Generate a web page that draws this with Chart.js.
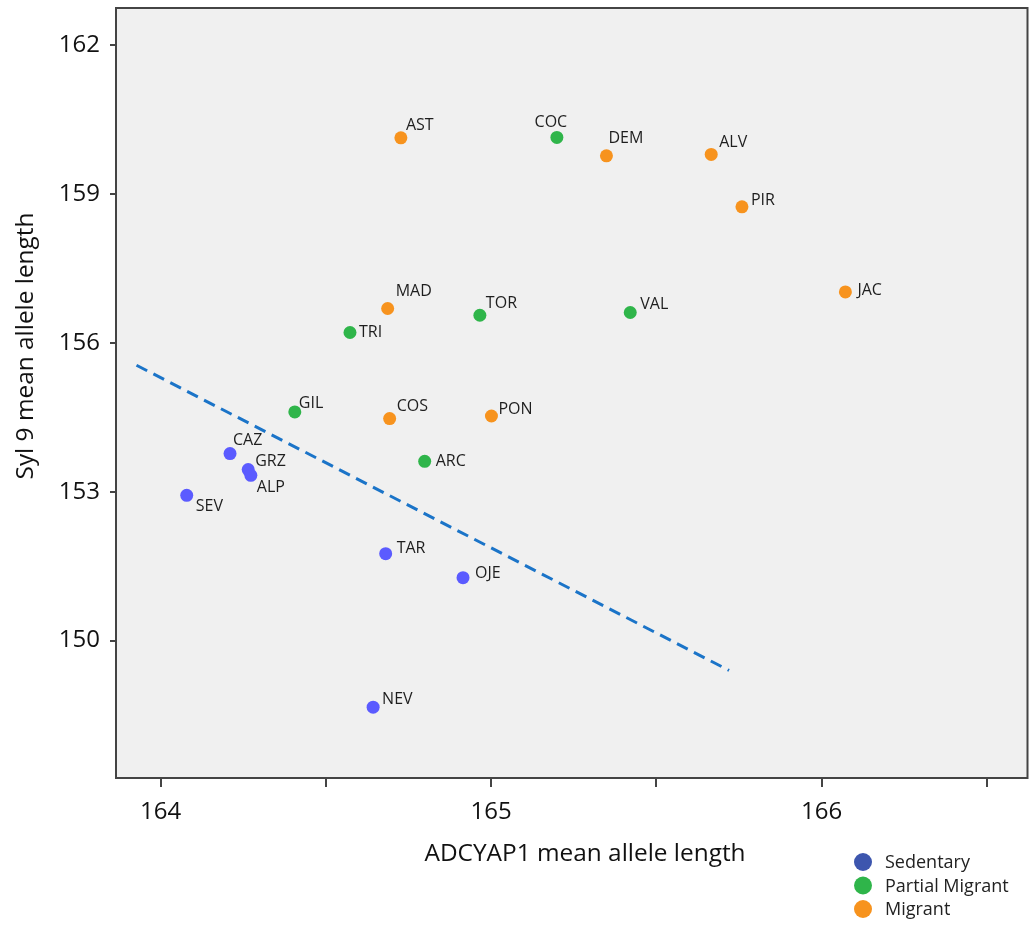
<!DOCTYPE html>
<html>
<head>
<meta charset="utf-8">
<script src="https://cdn.jsdelivr.net/npm/chart.js@4"></script>
<style>
  html, body { margin:0; padding:0; background:#fff; }
  #wrap { width:1034px; height:927px; position:relative; }
</style>
</head>
<body>
<div id="wrap"><canvas id="c"></canvas></div>
<script>
// ===== Data =====
const sedentaryNames = ["CAZ","GRZ","ALP","SEV","TAR","OJE","NEV"];
const sedentaryX = [164.210, 164.265, 164.273, 164.079, 164.681, 164.915, 164.643];
const sedentaryY = [153.768, 153.446, 153.331, 152.927, 151.752, 151.268, 148.659];

const partialNames = ["COC","TOR","VAL","TRI","GIL","ARC"];
const partialX = [165.199, 164.966, 165.421, 164.573, 164.406, 164.799];
const partialY = [160.139, 156.556, 156.611, 156.208, 154.607, 153.613];

const migrantNames = ["AST","DEM","ALV","PIR","JAC","MAD","COS","PON"];
const migrantX = [164.727, 165.349, 165.666, 165.759, 166.072, 164.687, 164.693, 165.001];
const migrantY = [160.131, 159.768, 159.796, 158.740, 157.026, 156.692, 154.474, 154.526];

// dashed separating line, two end points
const lineX = [163.927, 165.720];
const lineY = [155.548, 149.399];

const xTicks = [164, 164.5, 165, 165.5, 166, 166.5];
const yTicks = [150, 153, 156, 159, 162];

const seriesLabels = ["Sedentary", "Partial Migrant", "Migrant"];

// ===== Styles =====
const pointColors = ["#5b5bff", "#2fb54a", "#f7931e"];
const legendColors = ["#3d56ae", "#2fb54a", "#f7931e"];
const FONT = "'Open Sans', 'Noto Sans', sans-serif";

// label offset from point: [dx, dy, align]
const labelOffsets = {
  CAZ:[3,-13], GRZ:[7,-8], ALP:[6,12], SEV:[9,11], TAR:[11,-5], OJE:[12,-4], NEV:[9,-8],
  COC:[-6,-15,"center"], TOR:[6,-12], VAL:[10,-8], TRI:[9,0], GIL:[4,-9], ARC:[11,0],
  AST:[5,-12], DEM:[2,-17], ALV:[8,-12], PIR:[9,-6], JAC:[12,-1], MAD:[8,-17], COS:[7,-12], PON:[7,-7]
};

function toPoints(xs, ys, names){
  return xs.map((x, i) => ({ x: x, y: ys[i], name: names ? names[i] : null }));
}

// ===== Plugins =====
const plotBox = {
  id: "plotBox",
  beforeDraw(chart){
    const a = chart.chartArea, ctx = chart.ctx;
    ctx.save();
    ctx.fillStyle = "#f0f0f0";
    ctx.fillRect(a.left, a.top, a.right - a.left, a.bottom - a.top);
    ctx.restore();
  },
  afterDatasetsDraw(chart){
    const ctx = chart.ctx, a = chart.chartArea;
    // point labels
    ctx.save();
    ctx.font = "16px " + FONT;
    ctx.fillStyle = "#1e1e1e";
    ctx.textBaseline = "middle";
    chart.data.datasets.forEach((ds, di) => {
      if (ds.type === "line") return;
      const meta = chart.getDatasetMeta(di);
      meta.data.forEach((el, i) => {
        const p = ds.data[i];
        const off = labelOffsets[p.name] || [8, -8];
        ctx.textAlign = off[2] || "left";
        ctx.fillText(p.name, el.x + off[0], el.y + off[1]);
      });
    });
    ctx.restore();

    // frame
    ctx.save();
    ctx.strokeStyle = "#444";
    ctx.lineWidth = 2;
    ctx.strokeRect(a.left, a.top, a.right - a.left, a.bottom - a.top);
    ctx.restore();
  },
  afterDraw(chart){
    const ctx = chart.ctx;
    ctx.save();
    // axis titles
    ctx.fillStyle = "#111";
    ctx.font = "24.4px " + FONT;
    ctx.textAlign = "center";
    ctx.textBaseline = "alphabetic";
    ctx.fillText("ADCYAP1 mean allele length", 585, 861);
    ctx.translate(33, 346);
    ctx.rotate(-Math.PI / 2);
    ctx.fillText("Syl 9 mean allele length", 0, 0);
    ctx.restore();

    // legend
    ctx.save();
    ctx.font = "18px " + FONT;
    ctx.textAlign = "left";
    ctx.textBaseline = "middle";
    seriesLabels.forEach((lab, i) => {
      const y = 862 + i * 23.5;
      ctx.fillStyle = legendColors[i];
      ctx.beginPath();
      ctx.arc(863, y, 9, 0, Math.PI * 2);
      ctx.fill();
      ctx.fillStyle = "#222";
      ctx.fillText(lab, 885, y + 1);
    });
    ctx.restore();
  }
};

// ===== Chart =====
const datasets = seriesLabels.map((lab, i) => {
  const src = [
    [sedentaryX, sedentaryY, sedentaryNames],
    [partialX, partialY, partialNames],
    [migrantX, migrantY, migrantNames]
  ][i];
  return {
    label: lab,
    data: toPoints(src[0], src[1], src[2]),
    backgroundColor: pointColors[i],
    borderColor: pointColors[i],
    borderWidth: 0,
    pointRadius: 6.5
  };
});
datasets.push({
  type: "line",
  label: "fit",
  data: toPoints(lineX, lineY),
  borderColor: "#1b74c8",
  borderWidth: 3,
  borderDash: [12, 7],
  pointRadius: 0,
  fill: false
});

new Chart(document.getElementById("c"), {
  type: "scatter",
  data: { datasets: datasets },
  options: {
    responsive: true,
    maintainAspectRatio: false,
    animation: false,
    layout: { padding: { top: 8, right: 6, left: 0, bottom: 0 } },
    plugins: { legend: { display: false }, tooltip: { enabled: false } },
    scales: {
      x: {
        type: "linear",
        min: 163.865, max: 166.623,
        afterBuildTicks: s => { s.ticks = xTicks.map(v => ({ value: v })); },
        afterFit: s => { s.height = 149; s.paddingLeft = 0; s.paddingRight = 0; },
        border: { display: false },
        grid: { drawOnChartArea: false, drawTicks: true, tickLength: 9, color: "#444", lineWidth: 2 },
        ticks: {
          padding: 11,
          color: "#111",
          font: { family: FONT, size: 24 },
          callback: v => Number.isInteger(v) ? String(v) : ""
        }
      },
      y: {
        type: "linear",
        min: 147.232, max: 162.746,
        afterBuildTicks: s => { s.ticks = yTicks.map(v => ({ value: v })); },
        afterFit: s => { s.width = 116; s.paddingTop = 0; s.paddingBottom = 0; },
        border: { display: false },
        grid: { drawOnChartArea: false, drawTicks: true, tickLength: 6, color: "#444", lineWidth: 2 },
        ticks: {
          padding: 10,
          color: "#111",
          font: { family: FONT, size: 24 },
          callback: v => String(v)
        }
      }
    }
  },
  plugins: [plotBox]
});
</script>
</body>
</html>
